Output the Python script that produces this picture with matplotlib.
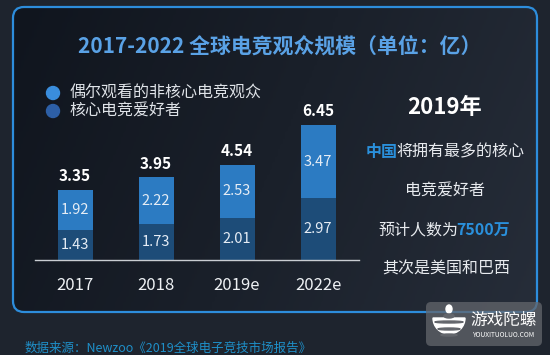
import numpy as np
import matplotlib
matplotlib.use("Agg")
import matplotlib.pyplot as plt
from matplotlib.patches import FancyBboxPatch, Circle, Ellipse, Wedge
from matplotlib.colors import LinearSegmentedColormap

plt.rcParams['font.family'] = ['Noto Sans CJK SC', 'DejaVu Sans']

# ---- data ----
years = ["2017", "2018", "2019e", "2022e"]
core_fans = [1.43, 1.73, 2.01, 2.97]          # 核心电竞爱好者
casual_viewers = [1.92, 2.22, 2.53, 3.47]     # 偶尔观看的非核心电竞观众
totals = [3.35, 3.95, 4.54, 6.45]
series_names = ["偶尔观看的非核心电竞观众", "核心电竞爱好者"]
title = "2017-2022 全球电竞观众规模（单位：亿）"
source = "数据来源：Newzoo《2019全球电子竞技市场报告》"

W, H = 550, 355
fig = plt.figure(figsize=(W / 100, H / 100), dpi=100)
fig.patch.set_facecolor("#1e242e")

# background / decoration axes in pixel coordinates
bg = fig.add_axes([0, 0, 1, 1], zorder=0)
bg.set_xlim(0, W)
bg.set_ylim(H, 0)
bg.axis("off")

# inner panel gradient
cmap = LinearSegmentedColormap.from_list("g", ["#10151e", "#1a202a", "#262d39"])
xx, yy = np.meshgrid(np.linspace(0, 1, 200), np.linspace(0, 1, 120))
grad = 0.8 * xx + 0.2 * yy
im = bg.imshow(grad, cmap=cmap, extent=(13, 537, 312, 7), aspect="auto", zorder=1)
frame = FancyBboxPatch((13, 7), 524, 305, boxstyle="round,pad=0,rounding_size=11",
                       facecolor="none", edgecolor="#2d8ddc", lw=1.6, zorder=3)
bg.add_patch(frame)
im.set_clip_path(frame)

# title
bg.text(280, 46, title, color="#5aa2e6", fontsize=15, fontweight="bold",
        ha="center", va="center", zorder=4)

# legend
leg_colors = ["#3a8ddc", "#2d5fa6"]
for i, (name, c) in enumerate(zip(series_names, leg_colors)):
    y = 93 + i * 18
    bg.add_patch(Circle((53, y), 6.5, color=c, zorder=4))
    bg.text(69, y, name, color="#dfe3e8", fontsize=11.5, ha="left", va="center", zorder=4)

# right side text
cx = 445
txt_c = "#e8ebef"
hl_c = "#2a90dc"
bg.text(cx, 108, "2019年", color="white", fontsize=16, fontweight="bold",
        ha="center", va="center", zorder=4)
bg.text(cx, 191, "电竞爱好者", color=txt_c, fontsize=11.5,
        ha="center", va="center", zorder=4)
bg.text(446, 269, "其次是美国和巴西", color=txt_c, fontsize=11.5,
        ha="center", va="center", zorder=4)


def mixed_line(parts, x_left, y, tighten=2):
    """parts: list of (text, color, weight); laid out left to right."""
    renderer = fig.canvas.get_renderer()
    x = x_left
    for s, c, w in parts:
        t = bg.text(x, y, s, color=c, fontsize=11.5, fontweight=w,
                    ha="left", va="center", zorder=4)
        ext = t.get_window_extent(renderer=renderer)
        x += ext.width - tighten  # 1 display px == 1 data unit here


mixed_line([("中国", hl_c, "bold"), ("将拥有最多的核心", txt_c, "normal")], 366, 152)
mixed_line([("预计人数为", txt_c, "normal"), ("7500万", hl_c, "bold")], 378, 230)

# source
bg.text(25, 348, source, color="#1f8fc8", fontsize=9, ha="left", va="center", zorder=4)

# watermark logo
bg.add_patch(FancyBboxPatch((426, 302), 116, 44, boxstyle="round,pad=0,rounding_size=5",
                            facecolor="#63666c", edgecolor="none", alpha=0.75, zorder=5))
bg.add_patch(Ellipse((449, 309), 6, 8, color="white", zorder=6))
bg.add_patch(Wedge((449, 318), 16, 0, 180, color="white", zorder=6))
for k, yb in enumerate([322, 329, 335]):
    bg.add_patch(Ellipse((449, yb), 28 - 6 * k, 2.0, color="#63666c", zorder=7))
bg.add_patch(Ellipse((449, 316), 10, 4, color="#63666c", zorder=7))
bg.text(504, 320, "游戏陀螺", color="white", fontsize=12, ha="center", va="center", zorder=6)
bg.text(504, 335, "YOUXITUOLUO.COM", color="white", fontsize=4.8, ha="center",
        va="center", zorder=6)

# ---- bar chart axes ----
px_per_x = 81.0
px_per_y = 20.93
x0_px, x_lo, x_hi = 75.0, -0.5, 3.5
left_px = x0_px + x_lo * px_per_x
width_px = (x_hi - x_lo) * px_per_x
base_px = 260.0
ymax = 7.0
ax = fig.add_axes([left_px / W, (H - base_px) / H, width_px / W, ymax * px_per_y / H], zorder=2)
ax.patch.set_alpha(0)
ax.set_xlim(x_lo, x_hi)
ax.set_ylim(0, ymax)

x = np.arange(len(years))
bw = 35 / px_per_x
lower_c = "#1d4c78"
upper_c = "#2c7bc2"
ax.bar(x, core_fans, width=bw, color=lower_c, zorder=2)
ax.bar(x, casual_viewers, width=bw, bottom=core_fans, color=upper_c, zorder=2)

for i in range(len(years)):
    ax.text(x[i], core_fans[i] / 2, f"{core_fans[i]:.2f}", color="#e6edf5",
            fontsize=10.5, ha="center", va="center", zorder=3)
    ax.text(x[i], core_fans[i] + casual_viewers[i] / 2, f"{casual_viewers[i]:.2f}",
            color="#e6edf5", fontsize=10.5, ha="center", va="center", zorder=3)
    ax.annotate(f"{totals[i]:.2f}", (x[i], totals[i]), xytext=(0, 4),
                textcoords="offset points", color="white", fontsize=11,
                fontweight="bold", ha="center", va="bottom", zorder=3)

for s in ["top", "right", "left"]:
    ax.spines[s].set_visible(False)
ax.spines["bottom"].set_color("#c9cdd2")
ax.spines["bottom"].set_linewidth(1.0)
ax.set_yticks([])
ax.set_xticks(x)
ax.set_xticklabels(years, color="#eef1f4", fontsize=12)
ax.tick_params(axis="x", length=0, pad=12)

fig.savefig("out.png", dpi=100, facecolor=fig.get_facecolor())
